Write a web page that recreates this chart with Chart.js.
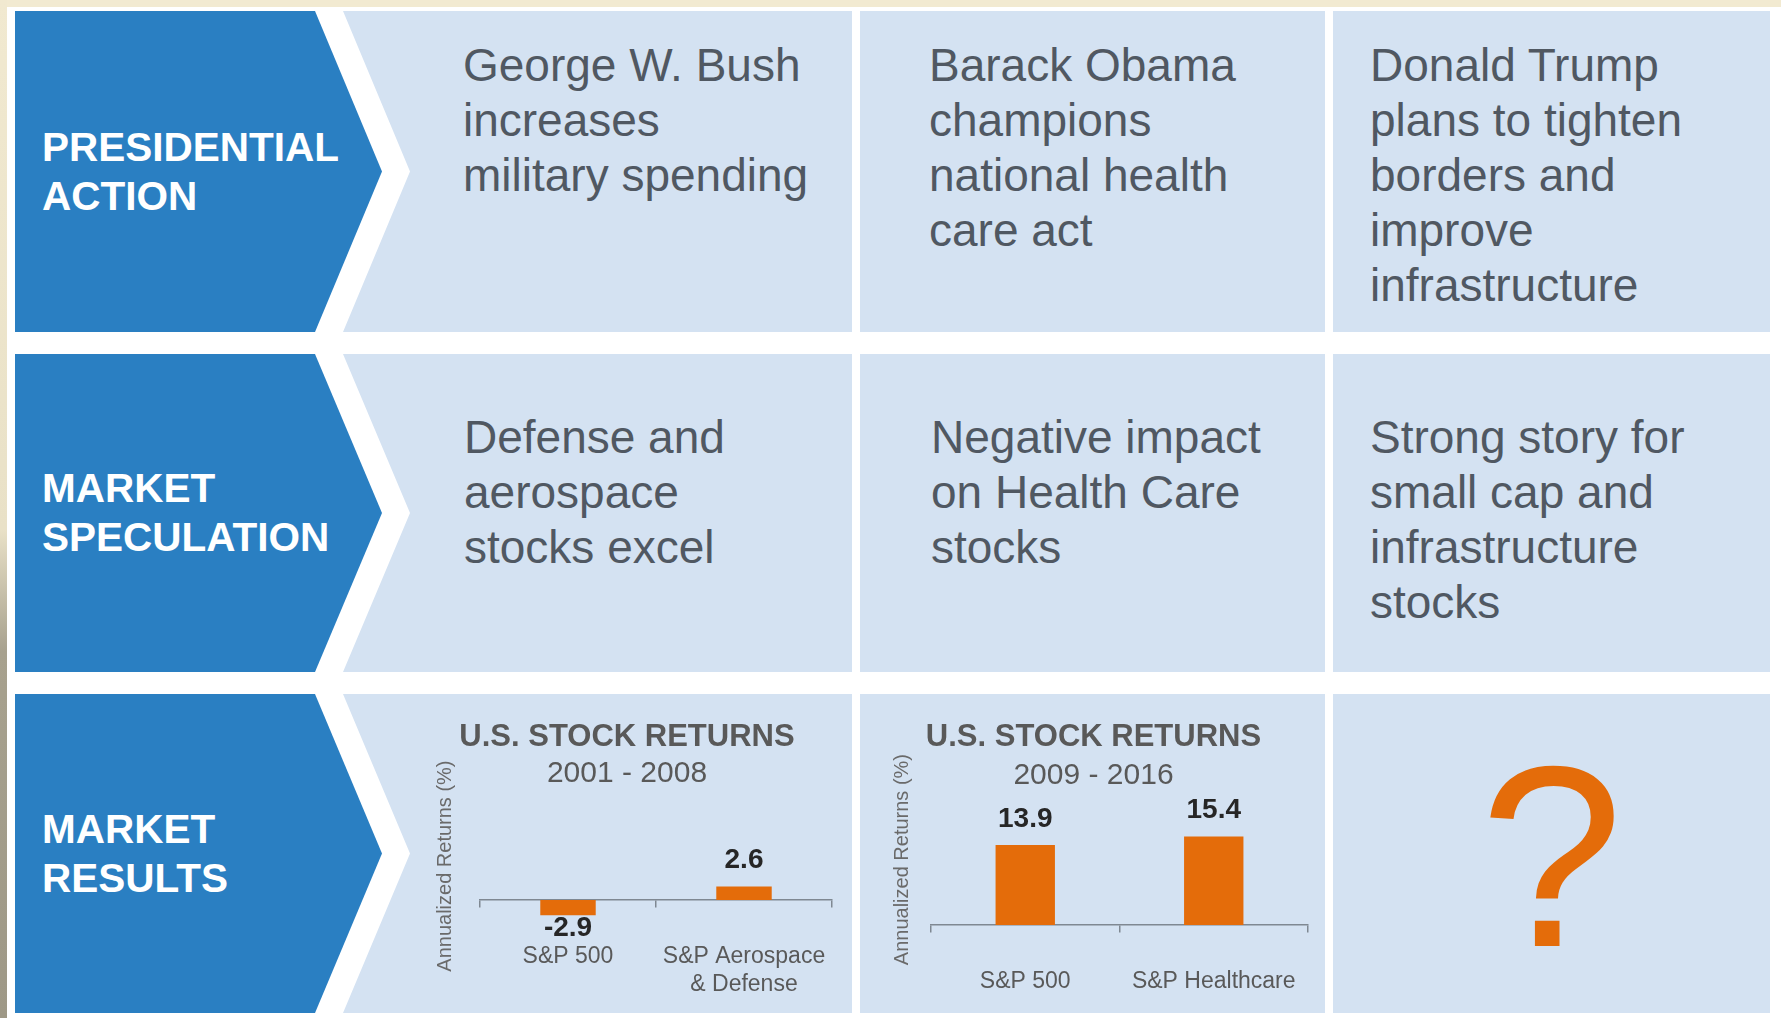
<!DOCTYPE html>
<html>
<head>
<meta charset="utf-8">
<title>Presidential action and market results</title>
<script src="https://cdn.jsdelivr.net/npm/chart.js@4.4.1/dist/chart.umd.min.js"></script>
<style>
  html, body { margin: 0; padding: 0; }
  body {
    width: 1781px; height: 1018px; position: relative; overflow: hidden;
    background: #fff; font-family: "Liberation Sans", Arial, sans-serif;
  }
  .frame-top { position: absolute; left: 0; top: 0; width: 100%; height: 7px; background: #f2ead1; }
  .frame-left {
    position: absolute; left: 0; top: 0; width: 7px; height: 100%;
    background: linear-gradient(#f1e9d0 0%, #e9e1c7 52%, #a7a18e 64%, #9e9886 100%);
  }

  /* blue row headers with arrow tip */
  .tag {
    position: absolute; left: 15px; width: 367px; box-sizing: border-box; padding-left: 27px;
    background: #2a7fc2; color: #fff; font-weight: bold; font-size: 40.5px; line-height: 49px;
    display: flex; align-items: center;
    clip-path: polygon(0 0, 300px 0, 100% 50%, 300px 100%, 0 100%);
  }
  .panel { position: absolute; background: #d4e2f2; }
  .panel.c1 { left: 343px; width: 509px; clip-path: polygon(0 0, 100% 0, 100% 100%, 0 100%, 67px 50%); }
  .panel.c2 { left: 860px; width: 465px; }
  .panel.c3 { left: 1333px; width: 437px; }
  .r1 { top: 11px; height: 321px; }
  .r2 { top: 354px; height: 318px; }
  .r3 { top: 694px; height: 319px; }

  .txt { position: absolute; color: #505862; font-size: 46px; line-height: 55px; white-space: nowrap; }
  .qmark {
    position: absolute; left: 1333px; top: 728px; width: 437px; text-align: center;
    color: #e46c0a; font-size: 258px; line-height: 258px;
  }
  canvas { position: absolute; }
</style>
</head>
<body>
<div class="frame-top"></div>
<div class="frame-left"></div>

<div class="tag r1">PRESIDENTIAL<br>ACTION</div>
<div class="tag r2">MARKET<br>SPECULATION</div>
<div class="tag r3">MARKET<br>RESULTS</div>

<div class="panel c1 r1"></div><div class="panel c2 r1"></div><div class="panel c3 r1"></div>
<div class="panel c1 r2"></div><div class="panel c2 r2"></div><div class="panel c3 r2"></div>
<div class="panel c1 r3"></div><div class="panel c2 r3"></div><div class="panel c3 r3"></div>

<div class="txt" style="left:463px;top:38px">George W. Bush<br>increases<br>military spending</div>
<div class="txt" style="left:929px;top:38px">Barack Obama<br>champions<br>national health<br>care act</div>
<div class="txt" style="left:1370px;top:38px">Donald Trump<br>plans to tighten<br>borders and<br>improve<br>infrastructure</div>

<div class="txt" style="left:464px;top:410px">Defense and<br>aerospace<br>stocks excel</div>
<div class="txt" style="left:931px;top:410px">Negative impact<br>on Health Care<br>stocks</div>
<div class="txt" style="left:1370px;top:410px">Strong story for<br>small cap and<br>infrastructure<br>stocks</div>

<canvas id="bush" width="450" height="310" style="left:400px;top:700px"></canvas>
<canvas id="obama" width="465" height="310" style="left:860px;top:700px"></canvas>

<div class="qmark">?</div>

<script>
// Annualized returns (%) per index
const CHART_TITLE = "U.S. STOCK RETURNS";
const Y_TITLE = "Annualized Returns (%)";

const bushPeriod = "2001 - 2008";
const bushLabels = ["S&P 500", ["S&P Aerospace", "& Defense"]];
const bushReturns = [-2.9, 2.6];

const obamaPeriod = "2009 - 2016";
const obamaLabels = ["S&P 500", "S&P Healthcare"];
const obamaReturns = [13.9, 15.4];

const ORANGE = "#e46c0a";
const GREY = "#595959";
const AXIS = "#7f8892";

Chart.defaults.font.family = "'Liberation Sans', Arial, sans-serif";
Chart.defaults.color = GREY;

// value printed above positive bars, below negative ones
const valueLabels = {
  id: "valueLabels",
  afterDatasetsDraw(chart) {
    const { ctx } = chart;
    const values = chart.data.datasets[0].data;
    ctx.save();
    ctx.font = "bold 28px 'Liberation Sans', Arial, sans-serif";
    ctx.fillStyle = "#262626";
    ctx.textAlign = "center";
    ctx.textBaseline = "alphabetic";
    chart.getDatasetMeta(0).data.forEach((bar, i) => {
      const v = values[i];
      ctx.fillText(v.toFixed(1), bar.x, v < 0 ? bar.y + 21 : bar.y - 18);
    });
    ctx.restore();
  },
};

function returnsChart(id, labels, values, period, cfg) {
  return new Chart(document.getElementById(id), {
    type: "bar",
    data: {
      labels,
      datasets: [{
        data: values,
        backgroundColor: ORANGE,
        borderWidth: 0,
        categoryPercentage: 1,
        barPercentage: 0.315,
      }],
    },
    options: {
      responsive: false,
      animation: false,
      events: [],
      layout: { padding: cfg.padding },
      plugins: {
        legend: { display: false },
        tooltip: { enabled: false },
        title: {
          display: true, text: CHART_TITLE, color: GREY,
          font: { size: 31, weight: "bold" },
          padding: { top: 19, bottom: 0 },
        },
        subtitle: {
          display: true, text: period, color: GREY,
          font: { size: 30, weight: "normal" },
          padding: cfg.subPadding,
        },
      },
      scales: {
        x: {
          position: { y: 0 },
          grid: { drawOnChartArea: false, drawTicks: true, tickLength: 7, color: AXIS, lineWidth: 1.5, offset: true },
          border: { display: true, color: AXIS, width: 1.5 },
          ticks: { padding: 36, color: GREY, font: { size: 23 }, maxRotation: 0, autoSkip: false },
          afterFit: s => { s.paddingLeft = 0; s.paddingRight = 0; },
        },
        y: {
          min: cfg.min,
          max: cfg.max,
          grid: { display: false },
          border: { display: false },
          ticks: { display: false },
          title: {
            display: true, text: Y_TITLE, color: "#6a6a6a",
            font: { size: 20 }, padding: { top: 11, bottom: 4 },
          },
          afterFit: s => { s.width = cfg.yWidth; },
        },
      },
    },
    plugins: [valueLabels],
  });
}

returnsChart("bush", bushLabels, bushReturns, bushPeriod, {
  padding: { left: 22, right: 18, top: 0, bottom: 78 },
  subPadding: { top: 0, bottom: 8 },
  yWidth: 58,
  min: -6.1,
  max: 19.05,
});

returnsChart("obama", obamaLabels, obamaReturns, obamaPeriod, {
  padding: { left: 19, right: 17, top: 0, bottom: 85 },
  subPadding: { top: 2, bottom: 0 },
  yWidth: 52,
  min: 0,
  max: 22.74,
});
</script>
</body>
</html>
